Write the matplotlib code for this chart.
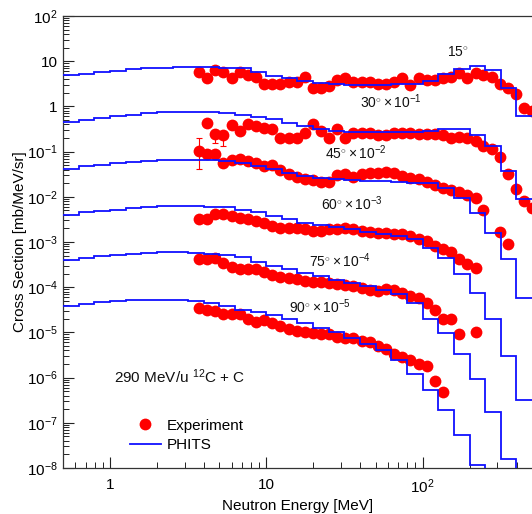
import matplotlib
matplotlib.use("Agg")
import matplotlib.pyplot as plt
import numpy as np
from matplotlib.ticker import FixedLocator, FuncFormatter, LogLocator, NullFormatter

plt.rcParams["font.family"] = ["Liberation Sans", "DejaVu Sans"]
plt.rcParams["mathtext.fontset"] = "custom"
plt.rcParams["mathtext.rm"] = "Liberation Sans"
plt.rcParams["mathtext.it"] = "Liberation Sans:italic"
plt.rcParams["mathtext.bf"] = "Liberation Sans:bold"

nan = np.nan

angles = [15, 30, 45, 60, 75, 90]
scale_exp = [0, -1, -2, -3, -4, -5]

# neutron energies of the measured points [MeV]
energies = [3.72, 4.19, 4.72, 5.32, 6.00, 6.76, 7.62, 8.59, 9.68, 10.9,
            12.3, 13.9, 15.6, 17.6, 19.9, 22.4, 25.2, 28.4, 32.1, 36.1,
            40.7, 45.9, 51.8, 58.3, 65.8, 74.1, 83.6, 94.2, 106, 120,
            135, 152, 171, 193, 218, 245, 277, 312, 352, 396,
            447, 504]

# measured cross sections [mb/MeV/sr], before the plotting scale factor
exp_15 = [5.8, 4.2, 6.3, 5.7, 4.2, 5.7, 4.9, 4.4, 3.2, 3.2,
          3.2, 3.4, 3.4, 4.4, 2.6, 2.6, 2.8, 3.8, 4.2, 3.4,
          3.4, 3.4, 3.2, 3.1, 3.4, 4.2, 2.9, 4.2, 3.8, 3.8,
          4.2, 4.4, 5.4, 4.2, 5.4, 4.9, 4.4, 3.2, 2.5, 1.9,
          0.90, 0.81]
exp_30 = [nan, 4.4, 2.5, 2.3, 3.8, 2.9, 4.0, 3.6, 3.4, 3.2,
          2.0, 2.0, 2.0, 2.6, 4.0, 2.8, 2.0, 3.2, 2.0, 2.6,
          2.6, 2.6, 2.3, 2.3, 2.6, 2.6, 2.6, 2.5, 2.5, 2.4,
          2.3, 2.0, 2.15, 2.0, 1.75, 1.36, 1.17, 0.77, 0.32, 0.15,
          0.081, 0.057]
exp_45 = [10.5, 9.0, 9.0, 5.7, 6.6, 7.0, 6.3, 5.7, 4.9, 5.1,
          4.0, 3.2, 2.8, 2.5, 2.3, 2.15, 2.15, 3.1, 3.2, 2.8,
          3.2, 3.4, 3.4, 3.6, 3.4, 2.9, 2.6, 2.5, 2.15, 1.85,
          1.58, 1.43, 1.29, 1.11, 0.95, 0.51, nan, 0.167, 0.090]
exp_60 = [3.2, 3.2, 4.2, 4.2, 3.8, 3.4, 3.2, 2.9, 2.6, 2.3,
          2.05, 2.05, 2.05, 1.95, 1.75, 1.75, 1.95, 1.95, 2.05, 1.95,
          1.75, 1.67, 1.58, 1.58, 1.51, 1.51, 1.36, 1.17, 1.05, 0.81,
          0.70, 0.60, 0.42, 0.32, 0.26]
exp_75 = [4.2, 4.2, 4.4, 3.4, 2.8, 2.5, 2.5, 2.5, 2.15, 1.85,
          1.67, 1.58, 1.51, 1.36, 1.29, 1.29, 1.23, 1.17, 1.11, 1.05,
          0.95, 0.86, 0.81, 0.90, 0.86, 0.74, 0.63, 0.57, 0.44, 0.32,
          0.195, 0.195, 0.090, nan, 0.100]
exp_90 = [3.4, 3.2, 2.9, 2.6, 2.5, 2.6, 1.95, 1.67, 1.85, 1.58,
          1.36, 1.17, 1.05, 1.0, 0.95, 0.90, 0.90, 0.81, 0.77, 0.74,
          0.66, 0.60, 0.49, 0.42, 0.34, 0.29, 0.25, 0.205, 0.185, 0.086,
          0.049]

# error bars shown on a few low-energy points: (series, point index, low, high)
err_series = [1, 1, 2]
err_index = [2, 3, 0]
err_low = [0.92, 0.94, 6.3]
err_high = [0.43, 0.21, 10.0]

# PHITS histogram, 10 bins per decade [MeV]
phits_edges = [0.50, 0.63, 0.79, 1.0, 1.26, 1.58, 2.0, 2.51, 3.16, 3.98,
               5.01, 6.31, 7.94, 10.0, 12.6, 15.8, 20.0, 25.1, 31.6, 39.8,
               50.1, 63.1, 79.4, 100, 126, 158, 200, 251, 316, 398, 501]
phits_15 = [4.9, 5.2, 5.8, 6.2, 6.6, 7.1, 7.2, 7.4, 7.4, 7.4,
            7.2, 6.9, 5.8, 4.8, 4.2, 3.7, 3.3, 3.1, 3.0, 3.0,
            3.0, 3.1, 3.2, 3.6, 5.2, 6.6, 8.0, 6.3, 2.6, 0.60]
phits_30 = [4.5, 5.0, 5.6, 6.2, 6.6, 7.1, 7.4, 7.6, 7.6, 7.4,
            7.1, 6.5, 5.8, 5.2, 4.4, 3.6, 3.2, 2.9, 2.75, 2.7,
            2.7, 2.7, 2.75, 2.8, 3.1, 3.1, 2.3, 1.35, 0.38, 0.091]
phits_45 = [4.2, 4.7, 5.1, 5.5, 5.9, 6.3, 6.5, 6.6, 6.6, 6.5,
            6.2, 5.5, 4.7, 4.2, 3.4, 2.9, 2.6, 2.45, 2.35, 2.2,
            2.2, 2.1, 2.05, 2.0, 1.6, 0.95, 0.44, 0.16, 0.042, 0.0058]
phits_60 = [4.0, 4.5, 4.9, 5.2, 5.6, 6.0, 6.2, 6.3, 6.2, 6.0,
            5.8, 5.2, 4.5, 3.8, 3.2, 2.7, 2.35, 2.1, 1.9, 1.7,
            1.5, 1.35, 1.17, 0.74, 0.44, 0.20, 0.074, 0.0195, 0.0030, 0.00032]
phits_75 = [4.0, 4.5, 4.9, 5.2, 5.5, 5.8, 5.9, 5.9, 5.8, 5.5,
            5.1, 4.6, 3.6, 3.0, 2.5, 2.1, 1.74, 1.45, 1.23, 1.05,
            0.87, 0.69, 0.44, 0.20, 0.095, 0.034, 0.0091, 0.0017, 0.00016, 0.00005]
phits_90 = [3.8, 4.2, 4.6, 4.9, 5.1, 5.2, 5.2, 5.1, 4.9, 4.4,
            3.8, 3.2, 2.8, 2.4, 2.0, 1.6, 1.26, 1.0, 0.76, 0.56,
            0.40, 0.24, 0.123, 0.054, 0.0195, 0.0054, 0.00117, 0.00025, 0.00005, 0.00001]

exp_all = [exp_15, exp_30, exp_45, exp_60, exp_75, exp_90]
phits_all = [phits_15, phits_30, phits_45, phits_60, phits_75, phits_90]

x_major = [1, 10, 100]
y_major = [1e-8, 1e-7, 1e-6, 1e-5, 1e-4, 1e-3, 1e-2, 1e-1, 1, 10, 100]


def power_label(value, pos):
    exponent = int(round(np.log10(value)))
    if exponent == 0:
        return "1"
    if exponent == 1:
        return "10"
    return r"$10^{%d}$" % exponent


fig = plt.figure(figsize=(5.32, 5.14), dpi=100)
ax = fig.add_axes([63 / 532, 46 / 514, 469 / 532, 452 / 514])

for k, (vals, model) in enumerate(zip(exp_all, phits_all)):
    factor = 10.0 ** scale_exp[k]
    ax.plot(energies[:len(vals)], np.array(vals) * factor, "o", color="#ff0000",
            ms=8.5, mec="#ff0000", mew=0, ls="none", zorder=2,
            label="Experiment" if k == 0 else None)
    ax.stairs(np.array(model) * factor, phits_edges, baseline=None,
              color="#1010ff", lw=1.3, zorder=3,
              label="PHITS" if k == 0 else None)

for s, i, lo, hi in zip(err_series, err_index, err_low, err_high):
    factor = 10.0 ** scale_exp[s]
    ax.errorbar([energies[i]], [exp_all[s][i] * factor],
                yerr=[[lo * factor], [hi * factor]], fmt="none",
                ecolor="#ff0000", elinewidth=0.8, capsize=2, capthick=0.8, zorder=2)

ax.set_xscale("log")
ax.set_yscale("log")
ax.set_xlim(phits_edges[0], phits_edges[-1])
ax.set_ylim(y_major[0], y_major[-1])

ax.xaxis.set_major_locator(FixedLocator(x_major))
ax.xaxis.set_minor_locator(LogLocator(base=10, subs=np.arange(2, 10), numticks=100))
ax.yaxis.set_major_locator(FixedLocator(y_major))
ax.yaxis.set_minor_locator(LogLocator(base=10, subs=np.arange(2, 10), numticks=100))
ax.xaxis.set_major_formatter(FuncFormatter(power_label))
ax.yaxis.set_major_formatter(FuncFormatter(power_label))
ax.xaxis.set_minor_formatter(NullFormatter())
ax.yaxis.set_minor_formatter(NullFormatter())

ax.tick_params(which="both", direction="in", top=False, right=False,
               color="#222222", labelsize=11)
ax.tick_params(which="major", length=8, width=0.8)
ax.tick_params(which="minor", length=4, width=0.7)
ax.tick_params(axis="x", which="major", pad=7)
ax.tick_params(axis="y", which="major", pad=4)

for side in ["left", "bottom", "top"]:
    ax.spines[side].set_linewidth(0.9)
    ax.spines[side].set_color("#333333")
ax.spines["right"].set_visible(False)

ax.set_xlabel("Neutron Energy [MeV]", fontsize=11, labelpad=2)
ax.set_ylabel("Cross Section [mb/MeV/sr]", fontsize=11)
ax.yaxis.set_label_coords(-0.076, 0.5)

label_pos = [(0.842, 0.909), (0.699, 0.796), (0.625, 0.684),
             (0.615, 0.571), (0.591, 0.445), (0.548, 0.343)]
for k, (lx, ly) in enumerate(label_pos):
    if scale_exp[k] == 0:
        txt = r"$%d^{\circ}$" % angles[k]
    else:
        txt = r"$%d^{\circ}\times 10^{%d}$" % (angles[k], scale_exp[k])
    ax.text(lx, ly, txt, transform=ax.transAxes, ha="center", va="baseline",
            fontsize=10, color="#111111")

ax.text(0.249, 0.188, r"290 MeV/u $^{12}$C + C", transform=ax.transAxes,
        ha="center", va="baseline", fontsize=11, color="#111111")

ax.legend(loc="lower left", bbox_to_anchor=(0.143, 0.035), frameon=False,
          fontsize=11, borderpad=0, borderaxespad=0, handlelength=2.0,
          handletextpad=0.4, labelspacing=0.35)

fig.savefig("out.png", dpi=100)
